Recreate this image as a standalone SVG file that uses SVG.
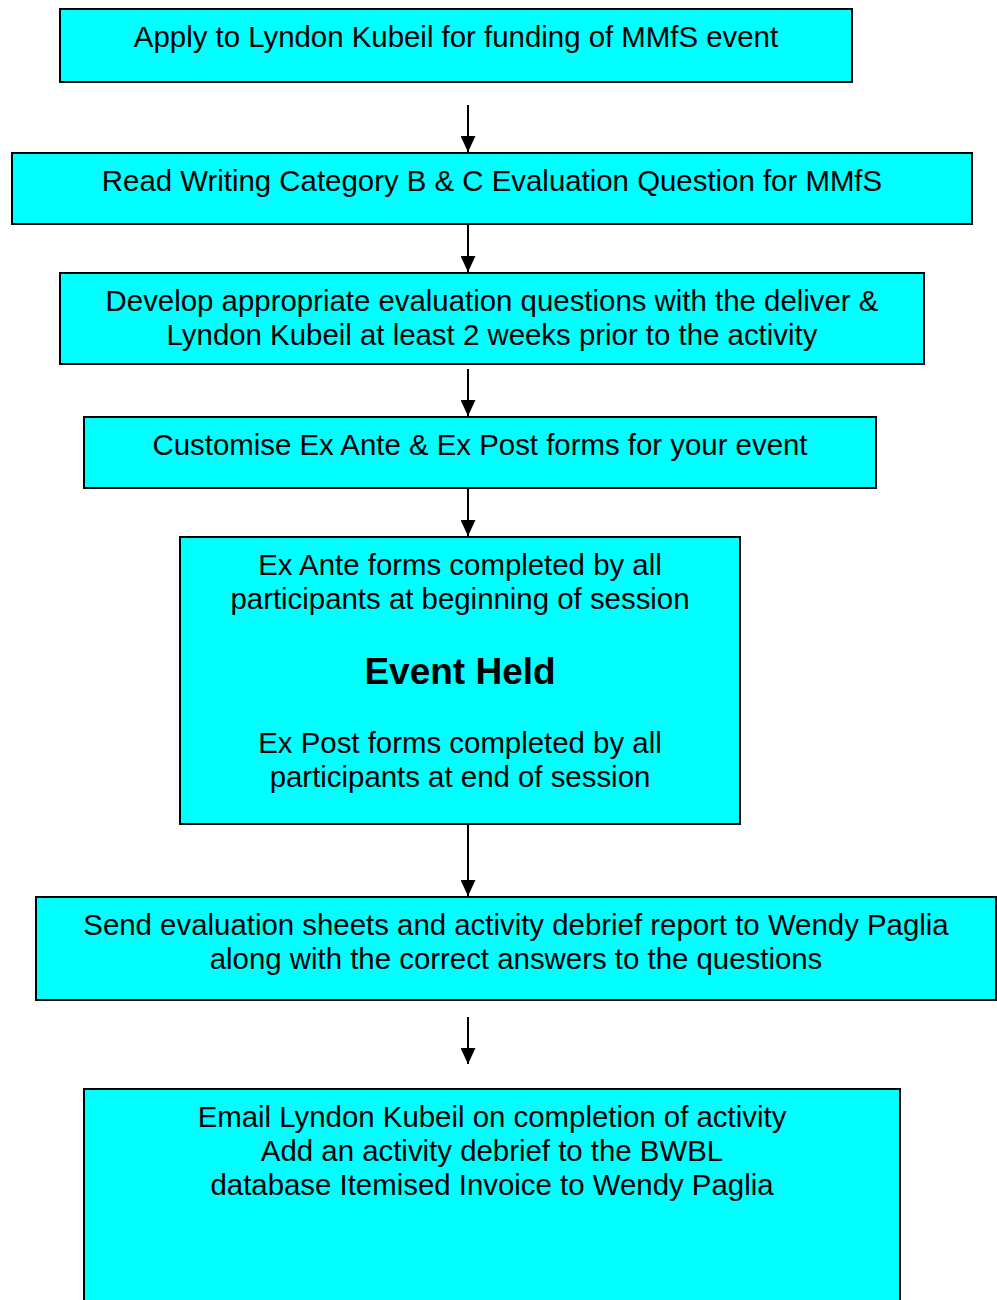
<svg xmlns="http://www.w3.org/2000/svg" width="997" height="1300" viewBox="0 0 997 1300">
<style>
.box{fill:#00ffff;stroke:#000;stroke-width:2}
.t{font-family:"Liberation Sans",Arial,sans-serif;font-size:29.4px;fill:#000;text-anchor:middle}
.b{font-weight:bold;font-size:37px}
.c{stroke:#000;stroke-width:2;fill:none}
</style>
<defs>
<marker id="ah" markerWidth="16" markerHeight="15" refX="16" refY="7.5" orient="auto" markerUnits="userSpaceOnUse" viewBox="0 0 16 15">
<path d="M0,0 L16,7.5 L0,15 Z" fill="#000"/>
</marker>
</defs>
<rect width="997" height="1300" fill="#fff"/>
<g id="n1"><rect class="box" x="60" y="9" width="792" height="73"/><text class="t" x="456" y="47">Apply to Lyndon Kubeil for funding of MMfS event</text></g>
<g id="n2"><rect class="box" x="12" y="153" width="960" height="71"/><text class="t" x="492" y="191">Read Writing Category B &amp; C Evaluation Question for MMfS</text></g>
<g id="n3"><rect class="box" x="60" y="273" width="864" height="91"/><text class="t" x="492" y="311">Develop appropriate evaluation questions with the deliver &amp;</text><text class="t" x="492" y="345">Lyndon Kubeil at least 2 weeks prior to the activity</text></g>
<g id="n4"><rect class="box" x="84" y="417" width="792" height="71"/><text class="t" x="480" y="455">Customise Ex Ante &amp; Ex Post forms for your event</text></g>
<g id="n5"><rect class="box" x="180" y="537" width="560" height="287"/><text class="t" x="460" y="575">Ex Ante forms completed by all</text><text class="t" x="460" y="609">participants at beginning of session</text><text class="t b" x="460" y="684">Event Held</text><text class="t" x="460" y="753">Ex Post forms completed by all</text><text class="t" x="460" y="787">participants at end of session</text></g>
<g id="n6"><rect class="box" x="36" y="897" width="960" height="103"/><text class="t" x="516" y="935">Send evaluation sheets and activity debrief report to Wendy Paglia</text><text class="t" x="516" y="969">along with the correct answers to the questions</text></g>
<g id="n7"><rect class="box" x="84" y="1089" width="816" height="220"/><text class="t" x="492" y="1127">Email Lyndon Kubeil on completion of activity</text><text class="t" x="492" y="1161">Add an activity debrief to the BWBL</text><text class="t" x="492" y="1195">database Itemised Invoice to Wendy Paglia</text></g>
<g id="connectors">
<line class="c" x1="468" y1="105" x2="468" y2="152" marker-end="url(#ah)"/>
<line class="c" x1="468" y1="225" x2="468" y2="272" marker-end="url(#ah)"/>
<line class="c" x1="468" y1="369" x2="468" y2="416" marker-end="url(#ah)"/>
<line class="c" x1="468" y1="489" x2="468" y2="536" marker-end="url(#ah)"/>
<line class="c" x1="468" y1="825" x2="468" y2="896" marker-end="url(#ah)"/>
<line class="c" x1="468" y1="1017" x2="468" y2="1064" marker-end="url(#ah)"/>
</g>
</svg>
